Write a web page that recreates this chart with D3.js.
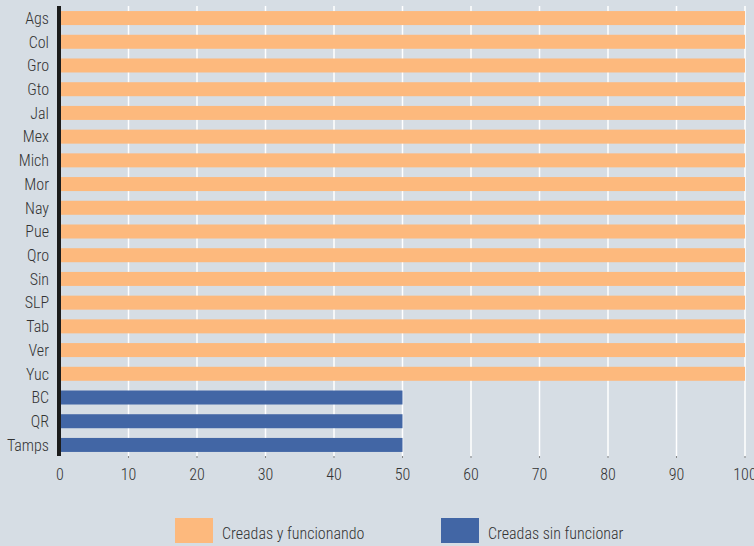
<!DOCTYPE html>
<html><head><meta charset="utf-8">
<script src="https://cdn.jsdelivr.net/npm/d3@7/dist/d3.min.js"></script>
<style>
html,body{margin:0;padding:0;background:#d6dde4;}
svg{display:block;}
text{font-family:Roboto,sans-serif;font-stretch:condensed;font-weight:300;fill:#333;}
</style></head>
<body>
<svg id="chart" width="754" height="546"></svg>
<script>
const categories = ["Ags","Col","Gro","Gto","Jal","Mex","Mich","Mor","Nay","Pue","Qro","Sin","SLP","Tab","Ver","Yuc","BC","QR","Tamps"];
const values = [100,100,100,100,100,100,100,100,100,100,100,100,100,100,100,100,50,50,50];
const seriesOf = ["Creadas y funcionando","Creadas y funcionando","Creadas y funcionando","Creadas y funcionando","Creadas y funcionando","Creadas y funcionando","Creadas y funcionando","Creadas y funcionando","Creadas y funcionando","Creadas y funcionando","Creadas y funcionando","Creadas y funcionando","Creadas y funcionando","Creadas y funcionando","Creadas y funcionando","Creadas y funcionando","Creadas sin funcionar","Creadas sin funcionar","Creadas sin funcionar"];
const seriesNames = ["Creadas y funcionando","Creadas sin funcionar"];
const seriesColors = ["#fdb97d","#4266a5"];
const xTicks = [0,10,20,30,40,50,60,70,80,90,100];

const svg = d3.select("#chart");
const x = d3.scaleLinear().domain([0,100]).range([60,745]);
const y = d3.scaleBand().domain(categories).range([6.2,456.8]).paddingInner(0.41).paddingOuter(0.205);
const color = d3.scaleOrdinal().domain(seriesNames).range(seriesColors);

svg.append("g").selectAll("line").data(xTicks.filter(d=>d>0)).join("line")
  .attr("x1",d=>x(d)).attr("x2",d=>x(d)).attr("y1",6).attr("y2",456)
  .attr("stroke","#ffffff").attr("stroke-width",1.5);
svg.append("g").selectAll("line").data(xTicks.filter(d=>d>0)).join("line")
  .attr("x1",d=>x(d)).attr("x2",d=>x(d)).attr("y1",456).attr("y2",458)
  .attr("stroke","#888").attr("stroke-width",1);

svg.append("g").selectAll("rect").data(categories).join("rect")
  .attr("x",x(0)+1).attr("y",d=>y(d))
  .attr("width",(d,i)=>x(values[i])-x(0)-1)
  .attr("height",y.bandwidth())
  .attr("fill",(d,i)=>color(seriesOf[i]));

svg.append("rect").attr("x",57).attr("y",6).attr("width",4).attr("height",450).attr("fill","#1c1c1c");

svg.append("g").selectAll("text").data(categories).join("text")
  .attr("x",49).attr("y",d=>y(d)+y.bandwidth()/2)
  .attr("dy","0.36em").attr("text-anchor","end")
  .attr("font-size",16).text(d=>d);

svg.append("g").selectAll("text").data(xTicks).join("text")
  .attr("x",d=>x(d)).attr("y",474).attr("dy","0.36em")
  .attr("text-anchor","middle").attr("font-size",16).text(d=>d);

const lx = [175,441];
const lg = svg.append("g").selectAll("g").data(seriesNames).join("g")
  .attr("transform",(d,i)=>`translate(${lx[i]},518)`);
lg.append("rect").attr("width",38).attr("height",25).attr("fill",d=>color(d));
lg.append("text").attr("x",47).attr("y",15).attr("dy","0.36em").attr("font-size",16).text(d=>d);
</script>
</body></html>
